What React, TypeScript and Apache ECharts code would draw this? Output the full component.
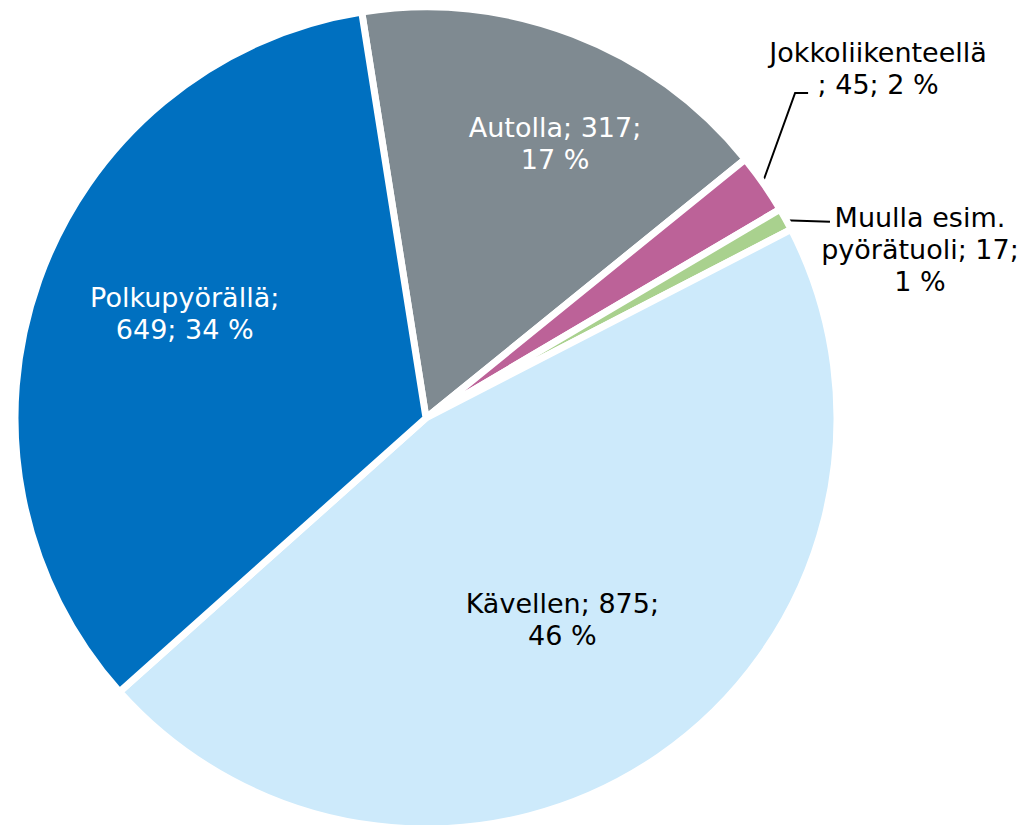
import React, { useEffect, useRef } from "react";
import * as echarts from "echarts";

// ---- data ----
const CATEGORIES = ["Autolla", "Jokkoliikenteellä", "Muulla esim. pyörätuoli", "Kävellen", "Polkupyörällä"];
const VALUES = [317, 45, 17, 875, 649];
const COLORS = ["#7F8A91", "#BC6298", "#A9D18E", "#CDEAFB", "#0070C0"];
const LABEL_TEMPLATES = [
  "{n}; {v};\n{p} %",
  "{n}\n; {v}; {p} %",
  "Muulla esim.\npyörätuoli; {v};\n{p} %",
  "{n}; {v};\n{p} %",
  "{n};\n{v}; {p} %",
];
const LABEL_COLORS = ["#ffffff", "#000000", "#000000", "#000000", "#ffffff"];
const LABEL_OUTSIDE = [false, true, true, false, false];

// ---- layout (styling) ----
const CX = 426;
const CY = 418;
const R = 408;
const START_DEG = -9; // clockwise from 12 o'clock
const LABEL_RADIUS = [0.743, 1.4, 1.279, 0.597, 0.645];
const LABEL_ANGLE_OFFSET = [4.2, -2.9, 10.1, 0.5, 3.9];
// leader line bends relative to label centre
const LEADER_BEND: ([number, number][] | null)[] = [
  null,
  [[-83, 24], [-70, 24]],
  [[-90, -28], [-90, -28]],
  null,
  null,
];

const TOTAL = VALUES.reduce((a, b) => a + b, 0);
const MID_ANGLES: number[] = (() => {
  let cum = 0;
  return VALUES.map((v) => {
    const mid = START_DEG + (360 * (cum + v / 2)) / TOTAL;
    cum += v;
    return mid;
  });
})();

function polar(r: number, deg: number): [number, number] {
  const a = (deg * Math.PI) / 180;
  return [CX + r * Math.sin(a), CY - r * Math.cos(a)];
}

export default function App() {
  const ref = useRef<HTMLDivElement>(null);
  useEffect(() => {
    document.body.style.margin = "0";
    const chart = echarts.init(ref.current!, undefined, { renderer: "svg" });
    const data = CATEGORIES.map((name, i) => ({
      name,
      value: VALUES[i],
      itemStyle: { color: COLORS[i] },
      label: {
        position: LABEL_OUTSIDE[i] ? "outside" : "inside",
        color: LABEL_COLORS[i],
        formatter: () =>
          LABEL_TEMPLATES[i]
            .replace("{n}", name)
            .replace("{v}", String(VALUES[i]))
            .replace("{p}", String(Math.round((VALUES[i] / TOTAL) * 100))),
      },
      labelLine: { show: LABEL_OUTSIDE[i], lineStyle: { color: "#000", width: 2 } },
    }));
    chart.setOption({
      animation: false,
      backgroundColor: "#ffffff",
      series: [
        {
          type: "pie",
          center: [CX, CY],
          radius: [0, R + 3],
          startAngle: 90 - START_DEG,
          clockwise: true,
          avoidLabelOverlap: false,
          itemStyle: { borderColor: "#ffffff", borderWidth: 7 },
          label: {
            fontFamily: "DejaVu Sans",
            fontSize: 27,
            lineHeight: 32,
            align: "center",
          },
          labelLine: { show: false },
          emphasis: { disabled: true },
          data,
          labelLayout: (params: any) => {
            const i = params.dataIndex;
            const [x, y] = polar(R * LABEL_RADIUS[i], MID_ANGLES[i] + LABEL_ANGLE_OFFSET[i]);
            const res: any = { x, y, align: "center", verticalAlign: "middle" };
            const bend = LEADER_BEND[i];
            if (bend) {
              const p0 = polar(R + 1, MID_ANGLES[i]);
              res.labelLinePoints = [p0, [x + bend[0][0], y + bend[0][1]], [x + bend[1][0], y + bend[1][1]]];
            }
            return res;
          },
        },
      ],
    });
    return () => chart.dispose();
  }, []);
  return <div ref={ref} style={{ width: 1025, height: 825 }} />;
}
